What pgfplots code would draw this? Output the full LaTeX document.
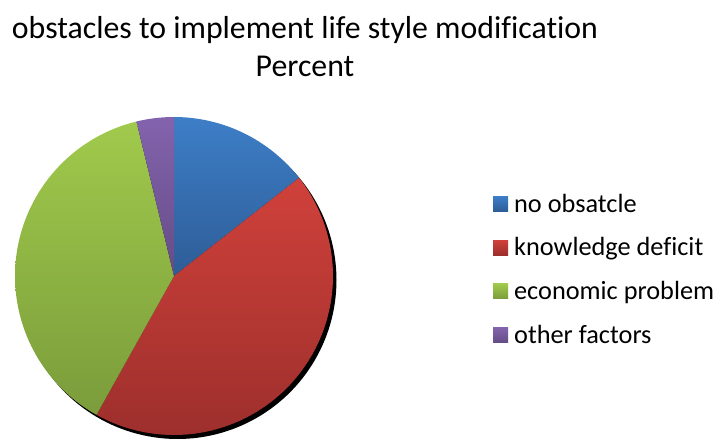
\documentclass[border=0pt]{standalone}
\usepackage{fontspec}
\setmainfont{Carlito}[Ligatures=NoCommon]
\usepackage{pgfplots}
\usepgfplotslibrary{polar}
\pgfplotsset{compat=1.18}
\definecolor{bT}{HTML}{3D7EC7}\definecolor{bB}{HTML}{2E5D97}
\definecolor{rT}{HTML}{D0413B}\definecolor{rB}{HTML}{9D2F2C}
\definecolor{gT}{HTML}{A0CA4C}\definecolor{gB}{HTML}{7B9C3B}
\definecolor{pT}{HTML}{8363AD}\definecolor{pB}{HTML}{654C86}
% percentages
\def\vA{14.4}\def\vB{43.7}\def\vC{38.1}\def\vD{3.8}
\pgfmathsetmacro\aA{90-3.6*\vA}
\pgfmathsetmacro\aB{\aA-3.6*\vB}
\pgfmathsetmacro\aC{\aB-3.6*\vC}
\pgfmathsetmacro\aD{\aC-3.6*\vD}
\begin{document}
\begin{tikzpicture}
\path[use as bounding box] (0,0) rectangle (720bp,-439bp);
\node[anchor=base, inner sep=0pt, font=\fontsize{31.8bp}{38bp}\selectfont] at (305bp,-38bp) {obstacles to implement life style modification};
\node[anchor=base, inner sep=0pt, font=\fontsize{31.8bp}{38bp}\selectfont] at (305bp,-76bp) {Percent};
\begin{polaraxis}[
  at={(174bp,-276bp)}, anchor=center,
  scale only axis, width=318bp, height=318bp,
  hide axis, xmin=0, xmax=360, ymin=0, ymax=1, clip=false,
  legend style={at={(1.503,0.765)}, anchor=north west, draw=none, fill=none,
    font=\fontsize{26.3bp}{30bp}\selectfont, row sep=20bp, inner sep=0pt},
  legend cell align=left,
  legend image code/.code={\path[#1] (0bp,-7.5bp) rectangle (15bp,7.5bp); \path (19bp,0bp);},
]
\addlegendimage{top color=bT, bottom color=bB, draw=none}
\addlegendentry{no obsatcle}
\addlegendimage{top color=rT, bottom color=rB, draw=none}
\addlegendentry{knowledge deficit}
\addlegendimage{top color=gT, bottom color=gB, draw=none}
\addlegendentry{economic problem}
\addlegendimage{top color=pT, bottom color=pB, draw=none}
\addlegendentry{other factors}
% shadow
\addplot[forget plot, fill=black, draw=none, xshift=3.5bp, yshift=-4bp, domain=0:360, samples=180, mark=none] {1} -- cycle;
% slices
\addplot[forget plot, top color=bT, bottom color=bB, draw=none, domain=\aA:90, samples=40, mark=none] {1} -- (0,0) -- cycle;
\addplot[forget plot, top color=rT, bottom color=rB, draw=none, domain=\aB:\aA, samples=90, mark=none] {1} -- (0,0) -- cycle;
\addplot[forget plot, top color=gT, bottom color=gB, draw=none, domain=\aC:\aB, samples=80, mark=none] {1} -- (0,0) -- cycle;
\addplot[forget plot, top color=pT, bottom color=pB, draw=none, domain=\aD:\aC, samples=12, mark=none] {1} -- (0,0) -- cycle;
\end{polaraxis}
\end{tikzpicture}
\end{document}
